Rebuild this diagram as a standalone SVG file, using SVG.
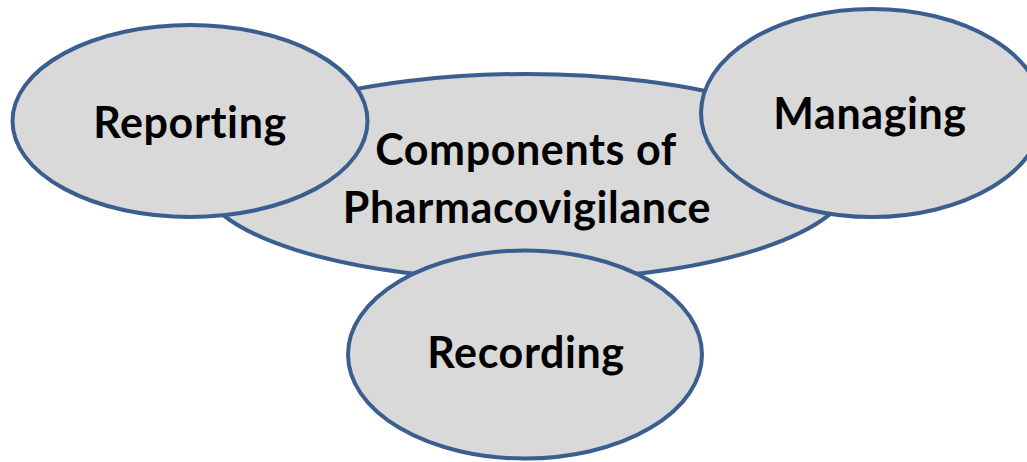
<svg xmlns="http://www.w3.org/2000/svg" width="1027" height="462" viewBox="0 0 1027 462">
<style>
.node{fill:#d9d9d9;stroke:#3a5f8f;stroke-width:4}
.lbl{font-family:Lato,"Liberation Sans",sans-serif;font-weight:bold;font-size:43px;letter-spacing:0.6px;fill:#000;text-anchor:middle}
</style>
<rect width="1027" height="462" fill="#fff"/>
<g id="connectors"></g>
<g id="center">
<ellipse class="node" cx="526" cy="177" rx="326" ry="103"/>
<text class="lbl" x="526" y="165">Components of</text>
<text class="lbl" x="527" y="223">Pharmacovigilance</text>
</g>
<g id="reporting">
<ellipse class="node" cx="190" cy="121" rx="177.5" ry="96"/>
<text class="lbl" x="190" y="138">Reporting</text>
</g>
<g id="managing">
<ellipse class="node" cx="872" cy="113" rx="171" ry="104"/>
<text class="lbl" x="870" y="129">Managing</text>
</g>
<g id="recording">
<ellipse class="node" cx="525" cy="354.5" rx="177" ry="104"/>
<text class="lbl" x="526" y="368">Recording</text>
</g>
</svg>
